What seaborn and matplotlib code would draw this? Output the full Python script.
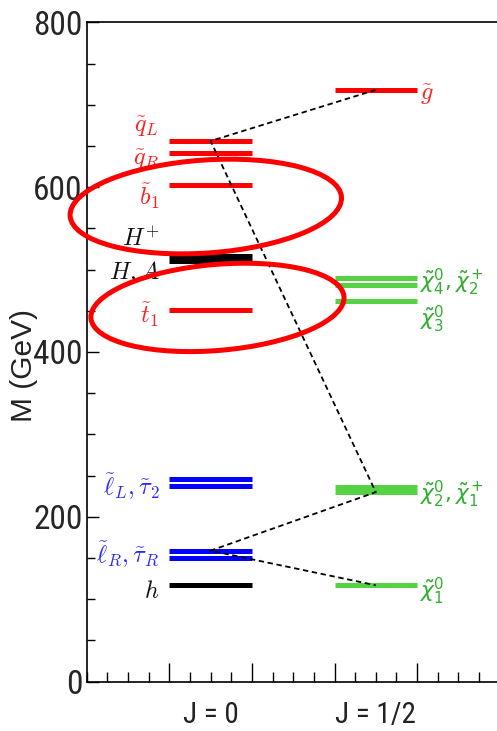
import numpy as np
import pandas as pd
import seaborn as sns
import matplotlib
matplotlib.use("Agg")
import matplotlib.pyplot as plt
from matplotlib.patches import Ellipse
from matplotlib import transforms, font_manager
from matplotlib.ticker import MultipleLocator, NullFormatter

# ---------------- data ----------------
# spin-0 states (J = 0 column)
scalar_names = ["qL", "qR", "b1", "Hp", "HA", "t1", "lL", "tau2", "lR", "tauR", "h"]
scalar_masses = [656, 642, 603, 516, 510, 451, 246, 237, 159, 150, 117]
scalar_groups = ["strong", "strong", "strong", "higgs", "higgs", "strong",
                 "slepton", "slepton", "slepton", "slepton", "higgs"]

# spin-1/2 states (J = 1/2 column)
fermion_names = ["gluino", "chi4", "chi2p", "chi3", "chi1p", "chi2", "chi1"]
fermion_masses = [718, 490, 481, 462, 236, 230, 117]
fermion_groups = ["strong", "gaugino", "gaugino", "gaugino", "gaugino", "gaugino", "gaugino"]

# labels
left_labels = [r"$\tilde{q}_L$", r"$\tilde{q}_R$", r"$\tilde{b}_1$", r"$H^{+}$", r"$H,A$",
               r"$\tilde{t}_1$", r"$\tilde{\ell}_L,\tilde{\tau}_2$",
               r"$\tilde{\ell}_R,\tilde{\tau}_R$", r"$h$"]
left_label_groups = ["strong", "strong", "strong", "higgs", "higgs", "strong",
                     "slepton", "slepton", "higgs"]
right_labels = [r"$\tilde{g}$", r"$\tilde{\chi}^0_4,\tilde{\chi}^+_2$", r"$\tilde{\chi}^0_3$",
                r"$\tilde{\chi}^0_2,\tilde{\chi}^+_1$", r"$\tilde{\chi}^0_1$"]
right_label_groups = ["strong", "gaugino", "gaugino", "gaugino", "gaugino"]

# decay chain  g~ -> q~L -> chi2 -> l~R -> chi1
chain = ["gluino", "qL", "chi2", "lR", "chi1"]

column_labels = ["J = 0", "J = 1/2"]
y_ticks = [0, 200, 400, 600, 800]

# ---------------- style ----------------
sns.set_style("ticks")
flist = font_manager.fontManager.ttflist
avail = {f.name for f in flist}
narrow, stretch = None, "normal"
for name in ["Liberation Sans Narrow", "Roboto Condensed", "Open Sans Condensed",
             "Noto Sans Condensed", "DejaVu Sans Condensed", "Arial Narrow"]:
    if name in avail:
        narrow = name
        break
if narrow is None:
    for fam in ["DejaVu Sans", "Noto Sans", "Roboto", "Open Sans", "Inter", "Liberation Sans"]:
        if any(f.name == fam and str(f.stretch) in ("condensed", "semi-condensed",
                                                    "extra-condensed") for f in flist):
            narrow, stretch = fam, "condensed"
            break
if narrow is None:
    narrow = "Liberation Sans"
    tick_size, jlab_size = 19, 19
else:
    tick_size, jlab_size = 24, 21

plt.rcParams["font.family"] = [narrow, "DejaVu Sans"]
plt.rcParams["font.stretch"] = stretch
plt.rcParams["lines.solid_capstyle"] = "butt"

bar_colors = {"strong": "#ff0000", "higgs": "#000000", "slepton": "#0000ff", "gaugino": "#55d344"}
text_colors = {"strong": "#ff1f1f", "higgs": "#111111", "slepton": "#2a2aff", "gaugino": "#2fae2f"}

W, H = 497, 731
fig = plt.figure(figsize=(W / 100, H / 100), dpi=100)
ax = fig.add_axes([86.7 / W, 49.3 / H, 413 / W, 659.4 / H])

# ---------------- levels ----------------
col_span = {"J0": (1.0, 2.0), "J12": (3.0, 4.0)}
rows = []
for n, m, g in zip(scalar_names, scalar_masses, scalar_groups):
    for x in col_span["J0"]:
        rows.append({"name": n, "x": x, "M": m, "group": g})
for n, m, g in zip(fermion_names, fermion_masses, fermion_groups):
    for x in col_span["J12"]:
        rows.append({"name": n, "x": x, "M": m, "group": g})
df = pd.DataFrame(rows)

sns.lineplot(data=df, x="x", y="M", hue="group", units="name", estimator=None,
             palette=bar_colors, linewidth=3.6, legend=False, sort=False, ax=ax)

# decay chain (dashed)
mass_of = dict(zip(scalar_names + fermion_names, scalar_masses + fermion_masses))
col_mid = {n: 1.5 for n in scalar_names}
col_mid.update({n: 3.5 for n in fermion_names})
chain_df = pd.DataFrame({"x": [col_mid[n] for n in chain], "M": [mass_of[n] for n in chain]})
ax.plot(chain_df["x"], chain_df["M"], color="black", lw=1.3, ls=(0, (3, 2)), zorder=3)

# ---------------- labels ----------------
left_label_y = [673, 633, 589, 536, 496, 445, 237, 154, 109]
for txt, g, yy in zip(left_labels, left_label_groups, left_label_y):
    ax.text(0.88, yy, txt, ha="right", va="center", fontsize=17.5, color=text_colors[g],
            math_fontfamily="cm")
right_label_y = [712, 485, 439, 227, 109]
for txt, g, yy in zip(right_labels, right_label_groups, right_label_y):
    ax.text(4.03, yy, txt, ha="left", va="center",
            fontsize=15.5 if g == "gaugino" else 17.5, color=text_colors[g],
            math_fontfamily="dejavusans" if g == "gaugino" else "cm")

# ---------------- axes ----------------
ax.set_xlim(0, 5)
ax.set_ylim(0, 800)
ax.set_yticks(y_ticks)
ax.yaxis.set_minor_locator(MultipleLocator(50))
ax.set_xticks([1, 2, 3, 4])
ax.xaxis.set_minor_locator(MultipleLocator(0.25))
ax.xaxis.set_major_formatter(NullFormatter())
ax.tick_params(axis="both", which="both", direction="in", width=1.0, color="black",
               top=False, right=False)
ax.tick_params(axis="y", which="major", length=8.6, labelsize=tick_size, pad=3)
ax.tick_params(axis="y", which="minor", length=5.8)
ax.tick_params(axis="x", which="major", length=13.7)
ax.tick_params(axis="x", which="minor", length=7.2)
for s in ["left", "bottom", "top"]:
    ax.spines[s].set_linewidth(1.2)
    ax.spines[s].set_color("black")
ax.spines["right"].set_visible(False)

ax.set_xlabel("")
ax.set_ylabel("M (GeV)", fontsize=21.5, family=["Liberation Sans", "DejaVu Sans"],
              stretch="normal", va="center", color="#222222")
ax.yaxis.set_label_coords(-0.152, 0.48)

xform = transforms.blended_transform_factory(ax.transData, ax.transAxes)
for lab, xc in zip(column_labels, [1.5, 3.5]):
    ax.text(xc, -0.0505, lab, transform=xform, ha="center", va="center", fontsize=jlab_size,
            color="#222222")

# ---------------- highlight ellipses ----------------
for (cx, cy, w_in, h_in, ang) in [(1.442, 576.5, 2.72, 0.93, 4.0),
                                   (1.583, 454.1, 2.54, 0.86, 4.9)]:
    tr = fig.dpi_scale_trans + transforms.ScaledTranslation(cx, cy, ax.transData)
    e = Ellipse((0, 0), w_in, h_in, angle=ang, transform=tr, fill=False,
                edgecolor="#ff0000", lw=3.6, zorder=10, clip_on=False)
    ax.add_patch(e)

fig.savefig("out.png", dpi=100)
